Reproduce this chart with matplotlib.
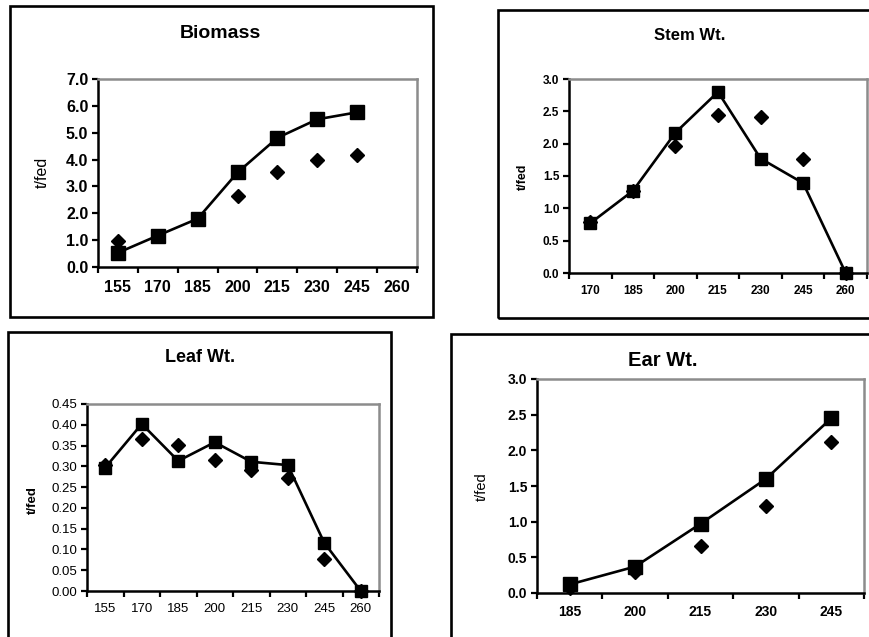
import numpy as np
import matplotlib
matplotlib.use('Agg')
import matplotlib.pyplot as plt
from matplotlib.patches import Rectangle
from matplotlib.ticker import FixedLocator, NullFormatter, FixedFormatter

plt.rcParams['font.family'] = ['Liberation Sans', 'DejaVu Sans']

W, H = 870, 637

# data (t/fed)
biomass_cats = [155, 170, 185, 200, 215, 230, 245, 260]
biomass_line = [0.53, 1.17, 1.80, 3.52, 4.81, 5.50, 5.76, np.nan]
biomass_pts = [0.95, 1.15, 1.80, 2.64, 3.54, 4.00, 4.17, np.nan]

stem_cats = [170, 185, 200, 215, 230, 245, 260]
stem_line = [0.77, 1.27, 2.17, 2.80, 1.77, 1.39, 0.0]
stem_pts = [0.79, 1.27, 1.96, 2.45, 2.41, 1.76, 0.0]

leaf_cats = [155, 170, 185, 200, 215, 230, 245, 260]
leaf_line = [0.297, 0.402, 0.313, 0.358, 0.311, 0.303, 0.116, 0.0]
leaf_pts = [0.303, 0.366, 0.351, 0.315, 0.291, 0.273, 0.078, 0.0]

ear_cats = [185, 200, 215, 230, 245]
ear_line = [0.12, 0.37, 0.97, 1.60, 2.45]
ear_pts = [0.07, 0.29, 0.66, 1.22, 2.12]

fig = plt.figure(figsize=(W / 100, H / 100), dpi=100)
fig.patch.set_facecolor('white')


def px_axes(x0, y0, x1, y1):
    # pixel box (top-left origin) -> figure axes
    return fig.add_axes([x0 / W, 1 - y1 / H, (x1 - x0) / W, (y1 - y0) / H])


def box(x0, y0, x1, y1):
    fig.patches.append(Rectangle((x0 / W, 1 - y1 / H), (x1 - x0) / W, (y1 - y0) / H,
                                 transform=fig.transFigure, fill=False,
                                 edgecolor='black', linewidth=1.9, zorder=0))


def panel(rect, cats, line, pts, ymax, ystep, yfmt, tsize, tweight, ms_sq, ms_d):
    ax = px_axes(*rect)
    x = np.arange(len(cats))
    ax.plot(x, line, color='black', linewidth=1.9, marker='s', markersize=ms_sq,
            clip_on=False, zorder=3)
    ax.plot(x, pts, linestyle='none', marker='D', markersize=ms_d, color='black',
            clip_on=False, zorder=4)
    ax.set_xlim(-0.5, len(cats) - 0.5)
    ax.set_ylim(0, ymax)
    ax.xaxis.set_major_locator(FixedLocator(np.arange(len(cats) + 1) - 0.5))
    ax.xaxis.set_major_formatter(NullFormatter())
    ax.xaxis.set_minor_locator(FixedLocator(x))
    ax.xaxis.set_minor_formatter(FixedFormatter([str(c) for c in cats]))
    ax.tick_params(axis='x', which='major', length=4, width=1.6, direction='out')
    ax.tick_params(axis='x', which='minor', length=0, pad=9,
                   labelsize=tsize)
    yt = np.arange(0, ymax + ystep / 2, ystep)
    ax.set_yticks(yt)
    ax.set_yticklabels([yfmt % v for v in yt])
    ax.tick_params(axis='y', length=4, width=1.6, direction='out', pad=3,
                   labelsize=tsize)
    for lab in ax.get_xticklabels(minor=True) + ax.get_yticklabels():
        lab.set_fontweight(tweight)
    ax.spines['left'].set_linewidth(1.8)
    ax.spines['bottom'].set_linewidth(1.8)
    ax.spines['top'].set_color('#8c8c8c')
    ax.spines['right'].set_color('#8c8c8c')
    ax.spines['top'].set_linewidth(1.8)
    ax.spines['right'].set_linewidth(1.8)
    return ax


def label(x, y, s, size, weight, rot=0):
    fig.text(x / W, 1 - y / H, s, fontsize=size, fontweight=weight, rotation=rot,
             ha='center', va='center')


# Biomass
box(10, 6, 433, 317)
panel((98, 79, 417, 267), biomass_cats, biomass_line, biomass_pts,
      7.0, 1.0, '%.1f', 11.5, 'bold', 9.5, 7.5)
label(220, 33, 'Biomass', 14, 'bold')
label(42, 172, 't/fed', 11.5, 'normal', 90)

# Stem Wt.
box(498, 10, 880, 318)
panel((569, 79, 867, 273), stem_cats, stem_line, stem_pts,
      3.0, 0.5, '%.1f', 8.5, 'bold', 9, 7.5)
label(690, 35, 'Stem Wt.', 12, 'bold')
label(523, 177, 't/fed', 9, 'bold', 90)

# Leaf Wt.
box(8, 332, 391, 660)
panel((87, 404, 379, 591), leaf_cats, leaf_line, leaf_pts,
      0.45, 0.05, '%.2f', 9.5, 'normal', 9, 7.5)
label(200, 358, 'Leaf Wt.', 13, 'bold')
label(33, 500, 't/fed', 9.5, 'bold', 90)

# Ear Wt.
box(451, 334, 880, 660)
panel((537, 379, 864, 593), ear_cats, ear_line, ear_pts,
      3.0, 0.5, '%.1f', 10, 'bold', 9.5, 7.5)
label(663, 360, 'Ear Wt.', 14.5, 'bold')
label(482, 487, 't/fed', 10.5, 'normal', 90)

fig.savefig('out.png', dpi=100)
